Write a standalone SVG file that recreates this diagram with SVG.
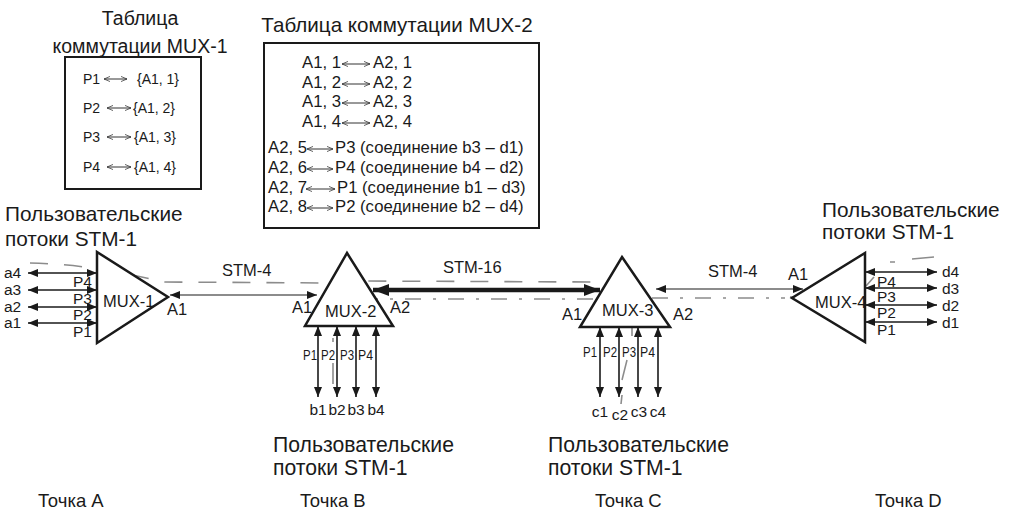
<svg xmlns="http://www.w3.org/2000/svg" width="1016" height="515" viewBox="0 0 1016 515">
<style>
text{font-family:"Liberation Sans",Arial,sans-serif;fill:#1a1a1a}
.t20{font-size:20.8px}
.t21{font-size:21.2px}
.tt{font-size:20.6px}
.t19{font-size:19.5px}
.t18{font-size:18.5px}
.tb{font-size:16.7px}
.t1{font-size:14px}
.lbl{font-size:16.5px}
.pl{font-size:15.5px}
.al{font-size:15.5px}
.box{fill:#fff;stroke:#1a1a1a;stroke-width:2}
.tri{fill:#fff;stroke:#1a1a1a;stroke-width:2.5;stroke-linejoin:miter}
.port{stroke:#1a1a1a;stroke-width:1.6;fill:none}
.thin{stroke:#1a1a1a;stroke-width:1.2;fill:none}
.thick{stroke:#1a1a1a;stroke-width:4.5;fill:none}
.ta{stroke:#333;stroke-width:1;fill:none}
.grey{stroke:#8c8c8c;stroke-width:1.6;fill:none}
</style>
<defs>
<marker id="ah" viewBox="0 0 10 8" refX="10" refY="4" markerWidth="10" markerHeight="8" markerUnits="userSpaceOnUse" orient="auto-start-reverse"><path d="M0,0 L10,4 L0,8 z" fill="#1a1a1a"/></marker>
<marker id="ahb" viewBox="0 0 16 12" refX="16" refY="6" markerWidth="16" markerHeight="12" markerUnits="userSpaceOnUse" orient="auto-start-reverse"><path d="M0,0 L16,6 L0,12 z" fill="#1a1a1a"/></marker>
<marker id="oh" viewBox="0 0 8 8" refX="8" refY="4" markerWidth="7" markerHeight="6" markerUnits="userSpaceOnUse" orient="auto-start-reverse"><path d="M0,0.6 L8,4 L0,7.4" fill="none" stroke="#333" stroke-width="1"/></marker>
</defs>

<g id="table-mux1">
<text class="t19" x="140" y="25" text-anchor="middle">Таблица</text>
<text class="t19" x="140" y="53" text-anchor="middle">коммутации MUX-1</text>
<rect class="box" x="65" y="57" width="136" height="132"/>
<g class="t1">
<text x="83" y="84">P1</text><text x="137" y="84">{A1, 1}</text>
<text x="83" y="113">P2</text><text x="133" y="113">{A1, 2}</text>
<text x="83" y="142">P3</text><text x="134" y="142">{A1, 3}</text>
<text x="83" y="172">P4</text><text x="134" y="172">{A1, 4}</text>
</g>
<path class="ta" d="M104,79 H127" marker-start="url(#oh)" marker-end="url(#oh)"/>
<path class="ta" d="M107,108 H131" marker-start="url(#oh)" marker-end="url(#oh)"/>
<path class="ta" d="M107,137 H131" marker-start="url(#oh)" marker-end="url(#oh)"/>
<path class="ta" d="M107,167 H131" marker-start="url(#oh)" marker-end="url(#oh)"/>
</g>

<g id="table-mux2">
<text class="tt" x="397" y="32" text-anchor="middle">Таблица коммутации MUX-2</text>
<rect class="box" x="264" y="43" width="275" height="185"/>
<g class="tb">
<text x="302" y="68">A1, 1</text><text x="373" y="68">A2, 1</text>
<text x="302" y="88">A1, 2</text><text x="373" y="88">A2, 2</text>
<text x="302" y="107">A1, 3</text><text x="373" y="107">A2, 3</text>
<text x="302" y="127">A1, 4</text><text x="373" y="127">A2, 4</text>
<text x="268" y="153">A2, 5</text><text x="335" y="153">P3 (соединение b3 – d1)</text>
<text x="268" y="173">A2, 6</text><text x="335" y="173">P4 (соединение b4 – d2)</text>
<text x="268" y="193">A2, 7</text><text x="337" y="193">P1 (соединение b1 – d3)</text>
<text x="268" y="212">A2, 8</text><text x="335" y="212">P2 (соединение b2 – d4)</text>
</g>
<path class="ta" d="M342,64 H370" marker-start="url(#oh)" marker-end="url(#oh)"/>
<path class="ta" d="M342,84 H370" marker-start="url(#oh)" marker-end="url(#oh)"/>
<path class="ta" d="M342,103 H370" marker-start="url(#oh)" marker-end="url(#oh)"/>
<path class="ta" d="M342,123 H370" marker-start="url(#oh)" marker-end="url(#oh)"/>
<path class="ta" d="M307,149 H333" marker-start="url(#oh)" marker-end="url(#oh)"/>
<path class="ta" d="M307,169 H333" marker-start="url(#oh)" marker-end="url(#oh)"/>
<path class="ta" d="M306,189 H335" marker-start="url(#oh)" marker-end="url(#oh)"/>
<path class="ta" d="M307,208 H333" marker-start="url(#oh)" marker-end="url(#oh)"/>
</g>

<g id="paths-grey">
<path class="grey" stroke-dasharray="18 16" d="M30,263 C80,264 120,272 165,282 L330,283 L360,281 L598,282"/>
<path class="grey" d="M612,277 Q628,283 630,296"/>
<path class="grey" d="M632,325 L632,336"/>
<path class="grey" d="M627,360 L622,380"/>
<path class="grey" d="M622,395 L621,404"/>
<path class="grey" d="M333,338 L333,342 M333,363 L333,384 M338,306 L338,312"/>
<path class="grey" stroke-dasharray="16 12 3 12" d="M362,299 L600,299 M652,298 L785,298"/>
<path class="grey" d="M790,297 L813,297"/>
<path class="grey" d="M866,286 L874,277"/>
<path class="grey" d="M890,262 L895,262 M912,259 L934,257"/>
</g>

<g id="connectors">
<path class="thin" d="M170,295 H317" marker-start="url(#ah)" marker-end="url(#ah)"/>
<path class="thick" d="M373,290 H600" marker-start="url(#ahb)" marker-end="url(#ahb)"/>
<path class="thin" d="M656,289 H803" marker-start="url(#ah)" marker-end="url(#ah)"/>
<text class="lbl" x="222" y="276">STM-4</text>
<text class="lbl" x="443" y="273">STM-16</text>
<text class="lbl" x="708" y="277">STM-4</text>
</g>

<g id="mux1">
<text class="t20" x="5" y="221">Пользовательские</text>
<text class="t20" x="5" y="246">потоки STM-1</text>
<path class="port" d="M28,273 H97" marker-start="url(#ah)" marker-end="url(#ah)"/>
<path class="port" d="M28,290 H97" marker-start="url(#ah)" marker-end="url(#ah)"/>
<path class="port" d="M28,307 H97" marker-start="url(#ah)" marker-end="url(#ah)"/>
<path class="port" d="M28,323 H97" marker-start="url(#ah)" marker-end="url(#ah)"/>
<polygon class="tri" points="97,252 97,343 168,297"/>
<text class="lbl" x="103" y="307">MUX-1</text>
<text class="lbl" x="167" y="315">A1</text>
<g class="al">
<text x="4" y="278">a4</text><text x="4" y="295">a3</text><text x="4" y="312">a2</text><text x="4" y="328">a1</text>
</g>
<g class="pl">
<text x="73" y="287">P4</text><text x="73" y="304">P3</text><text x="73" y="320">P2</text><text x="73" y="337">P1</text>
</g>
</g>

<g id="mux2">
<path class="port" d="M318,326 V397" marker-start="url(#ah)" marker-end="url(#ah)"/>
<path class="port" d="M337,326 V397" marker-start="url(#ah)" marker-end="url(#ah)"/>
<path class="port" d="M356,326 V397" marker-start="url(#ah)" marker-end="url(#ah)"/>
<path class="port" d="M376,326 V397" marker-start="url(#ah)" marker-end="url(#ah)"/>
<polygon class="tri" points="347,253 393,326 305,326"/>
<text class="lbl" x="325" y="317">MUX-2</text>
<text class="lbl" x="292" y="313">A1</text>
<text class="lbl" x="390" y="313">A2</text>
<g class="pl">
<text x="303" y="360" textLength="14" lengthAdjust="spacingAndGlyphs">P1</text>
<text x="321" y="360" textLength="14" lengthAdjust="spacingAndGlyphs">P2</text>
<text x="340" y="360" textLength="14" lengthAdjust="spacingAndGlyphs">P3</text>
<text x="358" y="360" textLength="15" lengthAdjust="spacingAndGlyphs">P4</text>
<text x="318" y="415" text-anchor="middle">b1</text>
<text x="337" y="415" text-anchor="middle">b2</text>
<text x="356" y="415" text-anchor="middle">b3</text>
<text x="376" y="415" text-anchor="middle">b4</text>
</g>
<text class="t21" x="273" y="452">Пользовательские</text>
<text class="t21" x="273" y="475">потоки STM-1</text>
</g>

<g id="mux3">
<path class="port" d="M600,327 V397" marker-start="url(#ah)" marker-end="url(#ah)"/>
<path class="port" d="M619,327 V397" marker-start="url(#ah)" marker-end="url(#ah)"/>
<path class="port" d="M638,327 V397" marker-start="url(#ah)" marker-end="url(#ah)"/>
<path class="port" d="M658,327 V397" marker-start="url(#ah)" marker-end="url(#ah)"/>
<polygon class="tri" points="622,257 670,327 580,327"/>
<text class="lbl" x="602" y="316">MUX-3</text>
<text class="lbl" x="562" y="320">A1</text>
<text class="lbl" x="673" y="320">A2</text>
<g class="pl">
<text x="583" y="357" textLength="14" lengthAdjust="spacingAndGlyphs">P1</text>
<text x="603" y="357" textLength="14" lengthAdjust="spacingAndGlyphs">P2</text>
<text x="622" y="357" textLength="14" lengthAdjust="spacingAndGlyphs">P3</text>
<text x="640" y="357" textLength="15" lengthAdjust="spacingAndGlyphs">P4</text>
<text x="600" y="417" text-anchor="middle">c1</text>
<text x="620" y="420" text-anchor="middle">c2</text>
<text x="639" y="417" text-anchor="middle">c3</text>
<text x="658" y="417" text-anchor="middle">c4</text>
</g>
<text class="t21" x="548" y="452">Пользовательские</text>
<text class="t21" x="548" y="475">потоки STM-1</text>
</g>

<g id="mux4">
<text class="t20" x="822" y="217">Пользовательские</text>
<text class="t20" x="822" y="239">потоки STM-1</text>
<path class="port" d="M865,272 H937" marker-start="url(#ah)" marker-end="url(#ah)"/>
<path class="port" d="M865,288 H937" marker-start="url(#ah)" marker-end="url(#ah)"/>
<path class="port" d="M865,305 H937" marker-start="url(#ah)" marker-end="url(#ah)"/>
<path class="port" d="M865,322 H937" marker-start="url(#ah)" marker-end="url(#ah)"/>
<polygon class="tri" points="865,253 865,342 792,298"/>
<text class="lbl" x="815" y="308">MUX-4</text>
<text class="lbl" x="788" y="280">A1</text>
<g class="pl">
<text x="877" y="287">P4</text><text x="877" y="302">P3</text><text x="877" y="318">P2</text><text x="877" y="335">P1</text>
</g>
<g class="al">
<text x="942" y="277">d4</text><text x="942" y="294">d3</text><text x="942" y="311">d2</text><text x="942" y="328">d1</text>
</g>
</g>

<g id="points">
<text class="t18" x="38" y="507">Точка A</text>
<text class="t18" x="300" y="507">Точка B</text>
<text class="t18" x="595" y="507">Точка C</text>
<text class="t18" x="875" y="507">Точка D</text>
</g>
</svg>
